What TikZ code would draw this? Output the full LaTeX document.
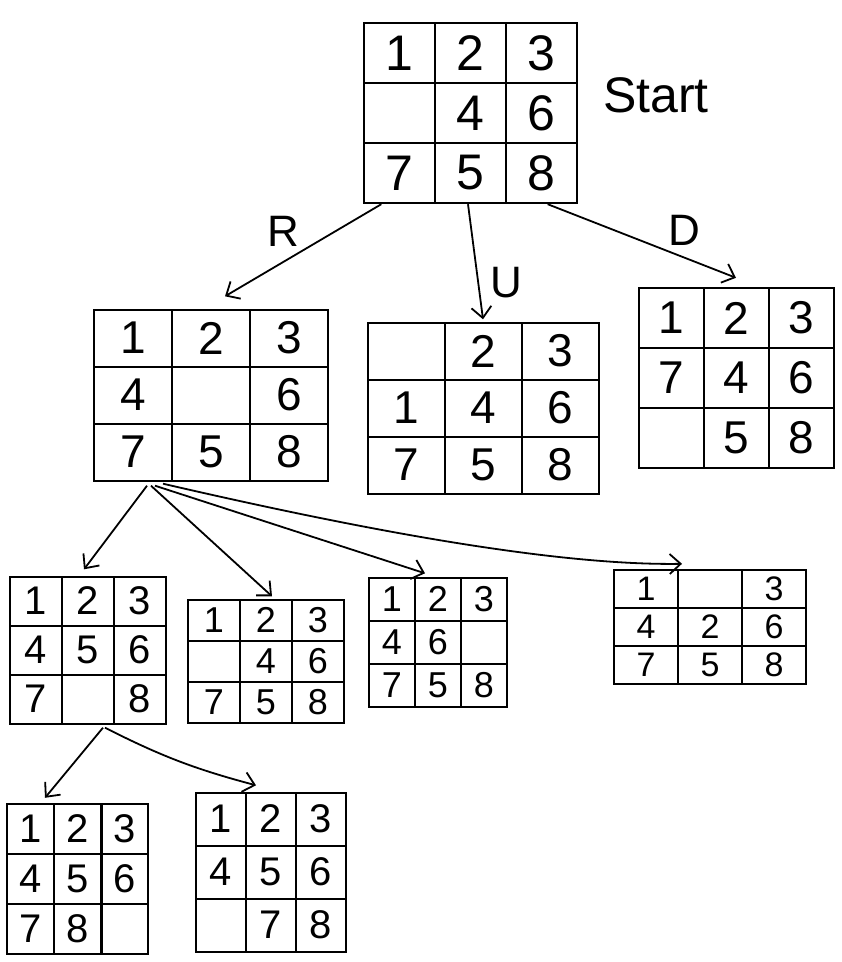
\documentclass[tikz,border=0pt]{standalone}
\usepackage{fontspec}
\setmainfont{Liberation Sans}
\usetikzlibrary{matrix,arrows.meta}
\tikzset{
  cell/.style={draw, line width=2pt, inner sep=0pt, anchor=center},
  grid/.style n args={3}{matrix of nodes, nodes in empty cells, inner sep=0pt,
    column sep=-2pt, row sep=-2pt,
    nodes={cell, minimum width=#1, minimum height=#2, font=\fontsize{#3}{#3}\selectfont}},
  arr/.style={-{Straight Barb[length=11pt,width=20pt,line width=1.8pt]}, line width=1.8pt},
  lbl/.style={font=\fontsize{44}{44}\selectfont}
}
\begin{document}
\begin{tikzpicture}[x=1pt,y=-1pt]
\useasboundingbox (0,0) rectangle (842,962);
% start
\matrix (s) [grid={71pt}{60pt}{50}] at (470,113) {1 & 2 & 3\\ & 4 & 6\\ 7 & 5 & 8\\};
\node[font=\fontsize{50}{50}\selectfont] (st) at (656,95) {Start};
% level 1
\matrix (r) [grid={78pt}{57pt}{46}] at (211,395) {1 & 2 & 3\\ 4 & & 6\\ 7 & 5 & 8\\};
\matrix (u) [grid={77pt}{57pt}{46}] at (483,408) { & 2 & 3\\ 1 & 4 & 6\\ 7 & 5 & 8\\};
\matrix (d) [grid={65pt}{60pt}{46}] at (736,378) {1 & 2 & 3\\ 7 & 4 & 6\\ & 5 & 8\\};
% level 2
\matrix (a) [grid={52pt}{49pt}{40}] at (88,650) {1 & 2 & 3\\ 4 & 5 & 6\\ 7 & & 8\\};
\matrix (b) [grid={52pt}{41pt}{36}] at (266,661) {1 & 2 & 3\\ & 4 & 6\\ 7 & 5 & 8\\};
\matrix (c) [grid={46pt}{43pt}{36}] at (438,642) {1 & 2 & 3\\ 4 & 6 & \\ 7 & 5 & 8\\};
\matrix (e2) [grid={64pt}{38pt}{34}] at (710,627) {1 & & 3\\ 4 & 2 & 6\\ 7 & 5 & 8\\};
% level 3
\matrix (e) [grid={47pt}{50pt}{40}] at (78,879) {1 & 2 & 3\\ 4 & 5 & 6\\ 7 & 8 & \\};
\matrix (f) [grid={50pt}{53pt}{40}] at (271,872) {1 & 2 & 3\\ 4 & 5 & 6\\ & 7 & 8\\};
% edges from start
\draw[arr] ([xshift=19pt]s.south west) -- ([xshift=14pt,yshift=12pt]r.north)
  node[lbl, pos=0.5, above left=0pt] (lr) {R};
\draw[arr] ([xshift=-2pt]s.south) -- ([yshift=2pt]u.north)
  node[lbl, pos=0.68, right=8pt] (lu) {U};
\draw[arr] ([xshift=-30pt]s.south east) -- ([yshift=9pt]d.north)
  node[lbl, pos=0.62, above right=0pt] (ld) {D};
% edges from R child
\draw[arr] ([xshift=-64pt,yshift=-4pt]r.south) -- ([xshift=-4pt,yshift=6pt]a.north);
\draw[arr] ([xshift=-60pt,yshift=-4pt]r.south) -- ([xshift=6pt,yshift=2pt]b.north);
\draw[arr] ([xshift=-56pt,yshift=-4pt]r.south) -- ([xshift=-13pt,yshift=3pt]c.north);
\draw[arr] ([xshift=-48pt,yshift=-2pt]r.south) .. controls (320,520) and (540,566) .. ([xshift=-28pt,yshift=5pt]e2.north);
% edges from level-2 node a
\draw[arr] ([xshift=15pt,yshift=-3pt]a.south) -- ([xshift=-33pt,yshift=5pt]e.north);
\draw[arr] ([xshift=17pt,yshift=-3pt]a.south) to[bend right=6] ([xshift=-15pt,yshift=6pt]f.north);
\end{tikzpicture}
\end{document}
